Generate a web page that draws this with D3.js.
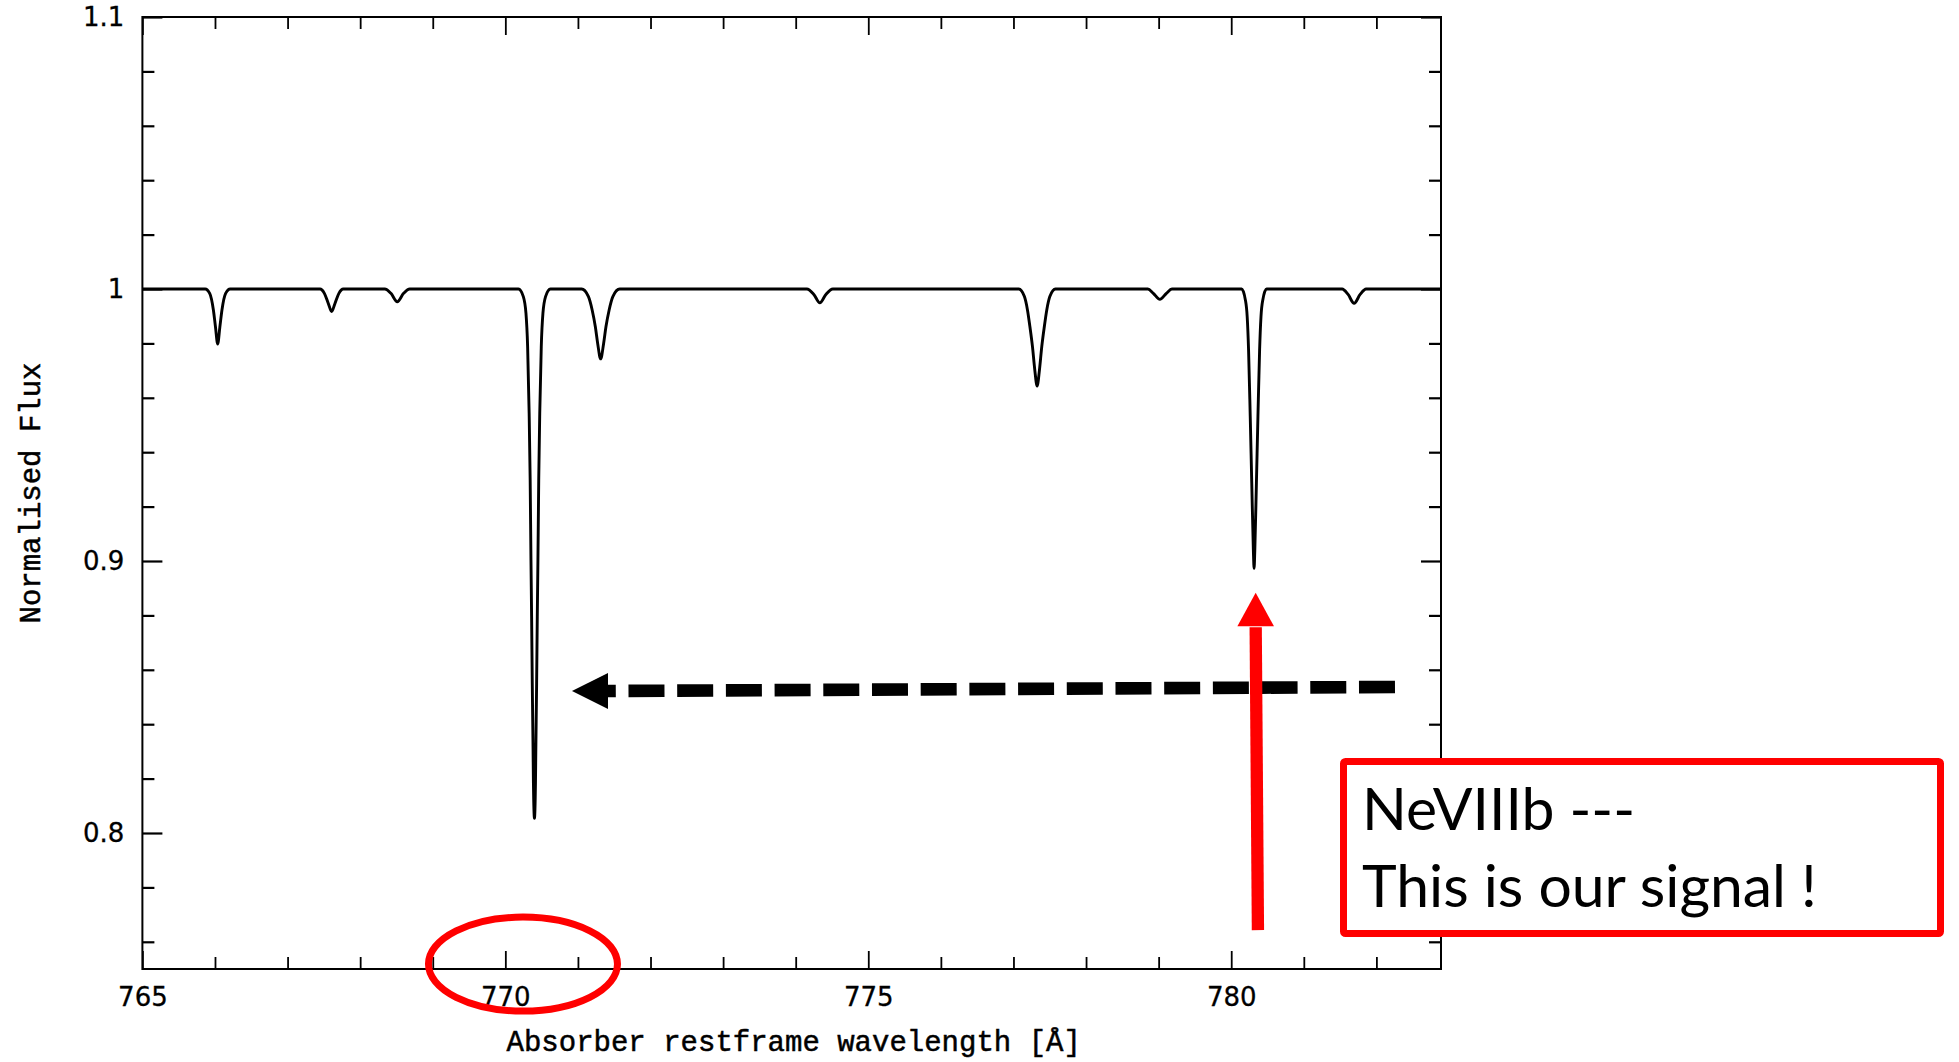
<!DOCTYPE html>
<html><head><meta charset="utf-8">
<script src="https://cdn.jsdelivr.net/npm/d3@7"></script>
<style>html,body{margin:0;padding:0;background:#fff;} svg{display:block;}</style>
</head><body>
<svg id="c" width="1959" height="1062"></svg>
<script>
// ---------- data ----------
const xDomain = [765, 782.89];
const yDomain = [0.75, 1.1];
const xMajorTicks = [765, 770, 775, 780];
const xTickLabels = ["765", "770", "775", "780"];
const xMinorTicks = [766, 767, 768, 769, 771, 772, 773, 774, 776, 777, 778, 779, 781, 782];
const yMajorTicks = [0.8, 0.9, 1.0, 1.1];
const yTickLabels = ["0.8", "0.9", "1", "1.1"];
const yMinorTicks = [0.76, 0.78, 0.82, 0.84, 0.86, 0.88, 0.92, 0.94, 0.96, 0.98, 1.02, 1.04, 1.06, 1.08];

const continuumLam = [765.0, 782.89];
const continuumFlux = [1.0, 1.0];

const line766Lam  = [765.865, 765.927, 765.978, 766.007, 766.037, 766.067, 766.096, 766.147, 766.209];
const line766Flux = [1, 0.9984, 0.9923, 0.986, 0.9798, 0.986, 0.9923, 0.9984, 1];

const line7676Lam  = [767.447, 767.507, 767.561, 767.607, 767.653, 767.707, 767.767];
const line7676Flux = [1, 0.9984, 0.9947, 0.9917, 0.9947, 0.9984, 1];

const line7685Lam  = [768.339, 768.424, 768.511, 768.598, 768.683];
const line7685Flux = [1, 0.9984, 0.9953, 0.9984, 1];

const line7704Lam  = [770.181, 770.248, 770.284, 770.307, 770.328, 770.342, 770.353, 770.362, 770.371, 770.382, 770.387, 770.401,
                      770.415, 770.420, 770.431, 770.440, 770.449, 770.460, 770.474, 770.495, 770.518, 770.554, 770.621];
const line7704Flux = [1, 0.9972, 0.9911, 0.9788, 0.9543, 0.9298, 0.9004, 0.8795, 0.855, 0.8305, 0.8183, 0.8054,
                      0.8183, 0.8305, 0.855, 0.8795, 0.9004, 0.9298, 0.9543, 0.9788, 0.9911, 0.9972, 1];

const line7713Lam  = [771.051, 771.145, 771.196, 771.240, 771.272, 771.313, 771.354, 771.386, 771.430, 771.481, 771.575];
const line7713Flux = [1, 0.9972, 0.9923, 0.9861, 0.980, 0.9743, 0.980, 0.9861, 0.9923, 0.9972, 1];

const line7743Lam  = [774.154, 774.250, 774.333, 774.416, 774.512];
const line7743Flux = [1, 0.998, 0.9949, 0.998, 1];

const line7773Lam  = [777.074, 777.151, 777.193, 777.227, 777.262, 777.294, 777.326, 777.358, 777.390, 777.425, 777.459, 777.501, 777.578];
const line7773Flux = [1, 0.9972, 0.9923, 0.9861, 0.9788, 0.9702, 0.9643, 0.9702, 0.9788, 0.9861, 0.9923, 0.9972, 1];

const line7790Lam  = [778.851, 778.927, 779.017, 779.107, 779.183];
const line7790Flux = [1, 0.9984, 0.9962, 0.9984, 1];

const line7803Lam  = [780.143, 780.195, 780.220, 780.239, 780.262, 780.283, 780.305, 780.315, 780.325, 780.347, 780.368, 780.391, 780.410, 780.435, 780.487];
const line7803Flux = [1, 0.996, 0.9898, 0.9776, 0.953, 0.9286, 0.904, 0.8973, 0.904, 0.9286, 0.953, 0.9776, 0.9898, 0.996, 1];

const line7817Lam  = [781.528, 781.610, 781.693, 781.776, 781.858];
const line7817Flux = [1, 0.998, 0.9947, 0.998, 1];

// annotation anchors (data units)
const dashArrowFrom = [782.256, 0.8537];
const dashArrowTo   = [771.414, 0.8522];
const dashArrowTip  = [770.918, 0.8522];
const redArrowFrom  = [780.368, 0.7643];
const redArrowBase  = [780.337, 0.8760];
const redArrowTip   = [780.337, 0.8883];
const ellipseCenter = [770.243, 0.7518];
const boxLines = ["NeVIIIb ---", "This is our signal !"];

// ---------- drawing ----------
const svg = d3.select("#c");
svg.append("rect").attr("width", 1959).attr("height", 1062).attr("fill", "#fff");

const L = 142.4, R = 1441, T = 17, B = 969;
const x = d3.scaleLinear().domain(xDomain).range([L, R]);
const y = d3.scaleLinear().domain(yDomain).range([B, T]);

const pairs = (lam, fl) => lam.map((v, i) => [v, fl[i]]);
const pts = [].concat(
  pairs(continuumLam, continuumFlux),
  pairs(line766Lam, line766Flux), pairs(line7676Lam, line7676Flux), pairs(line7685Lam, line7685Flux),
  pairs(line7704Lam, line7704Flux), pairs(line7713Lam, line7713Flux), pairs(line7743Lam, line7743Flux),
  pairs(line7773Lam, line7773Flux), pairs(line7790Lam, line7790Flux), pairs(line7803Lam, line7803Flux),
  pairs(line7817Lam, line7817Flux)
).sort((a, b) => a[0] - b[0]);

const lineGen = d3.line().x(d => x(d[0])).y(d => y(d[1])).curve(d3.curveMonotoneX);
svg.append("path").datum(pts).attr("d", lineGen)
  .attr("fill", "none").attr("stroke", "#000").attr("stroke-width", 2.9)
  .attr("stroke-linejoin", "round");

function styleAxis(g, sw) {
  g.select(".domain").remove();
  g.selectAll(".tick line").attr("stroke", "#000").attr("stroke-width", sw);
  g.selectAll("text").attr("font-family", "'DejaVu Sans', sans-serif").attr("font-size", 26).attr("fill", "#000")
    .attr("stroke", "#000").attr("stroke-width", 0.3);
  g.attr("font-family", null).attr("font-size", null);
}

// bottom
svg.append("g").attr("transform", `translate(0,${B})`)
  .call(d3.axisBottom(x).tickValues(xMinorTicks).tickSize(-12).tickFormat("")).call(g => styleAxis(g, 1.8));
svg.append("g").attr("transform", `translate(0,${B})`)
  .call(d3.axisBottom(x).tickValues(xMajorTicks).tickSize(-18).tickPadding(19).tickFormat((d, i) => xTickLabels[i]))
  .call(g => styleAxis(g, 1.8));
// top
svg.append("g").attr("transform", `translate(0,${T})`)
  .call(d3.axisTop(x).tickValues(xMinorTicks).tickSize(-12).tickFormat("")).call(g => styleAxis(g, 1.8));
svg.append("g").attr("transform", `translate(0,${T})`)
  .call(d3.axisTop(x).tickValues(xMajorTicks).tickSize(-18).tickFormat("")).call(g => styleAxis(g, 1.8));
// left
svg.append("g").attr("transform", `translate(${L},0)`)
  .call(d3.axisLeft(y).tickValues(yMinorTicks).tickSize(-12).tickFormat("")).call(g => styleAxis(g, 2.2));
svg.append("g").attr("transform", `translate(${L},0)`)
  .call(d3.axisLeft(y).tickValues(yMajorTicks).tickSize(-20).tickPadding(18).tickFormat((d, i) => yTickLabels[i]))
  .call(g => styleAxis(g, 2.2));
// right
svg.append("g").attr("transform", `translate(${R},0)`)
  .call(d3.axisRight(y).tickValues(yMinorTicks).tickSize(-12).tickFormat("")).call(g => styleAxis(g, 2.2));
svg.append("g").attr("transform", `translate(${R},0)`)
  .call(d3.axisRight(y).tickValues(yMajorTicks).tickSize(-20).tickFormat("")).call(g => styleAxis(g, 2.2));

// frame
svg.append("rect").attr("x", L).attr("y", T).attr("width", R - L).attr("height", B - T)
  .attr("fill", "none").attr("stroke", "#000").attr("stroke-width", 2);

// axis titles
svg.append("text").attr("x", (L + R) / 2 + 2).attr("y", 1051)
  .attr("text-anchor", "middle").attr("font-family", "'Liberation Mono', monospace").attr("font-size", 29)
  .attr("stroke", "#000").attr("stroke-width", 0.5)
  .text("Absorber restframe wavelength [Å]");
svg.append("text").attr("transform", `translate(40,${(T + B) / 2}) rotate(-90)`)
  .attr("text-anchor", "middle").attr("font-family", "'Liberation Mono', monospace").attr("font-size", 29)
  .attr("stroke", "#000").attr("stroke-width", 0.5)
  .text("Normalised Flux");

// dashed black arrow
svg.append("line")
  .attr("x1", x(dashArrowFrom[0])).attr("y1", y(dashArrowFrom[1]))
  .attr("x2", x(dashArrowTo[0])).attr("y2", y(dashArrowTo[1]))
  .attr("stroke", "#000").attr("stroke-width", 12.6).attr("stroke-dasharray", "36 12.7");
{
  const tx = x(dashArrowTip[0]), ty = y(dashArrowTip[1]), bx = x(dashArrowTo[0]);
  svg.append("path").attr("d", `M${tx},${ty} L${bx},${ty - 18} L${bx},${ty + 18} Z`).attr("fill", "#000");
}

// red vertical arrow
svg.append("line")
  .attr("x1", x(redArrowFrom[0])).attr("y1", y(redArrowFrom[1]))
  .attr("x2", x(redArrowBase[0])).attr("y2", y(redArrowBase[1]) + 1)
  .attr("stroke", "#ff0000").attr("stroke-width", 12.3);
{
  const tx = x(redArrowTip[0]), ty = y(redArrowTip[1]), by = y(redArrowBase[1]);
  svg.append("path").attr("d", `M${tx},${ty} L${tx - 18.3},${by} L${tx + 18.3},${by} Z`).attr("fill", "#ff0000");
}

// red ellipse
svg.append("ellipse").attr("cx", x(ellipseCenter[0])).attr("cy", y(ellipseCenter[1]))
  .attr("rx", 94.5).attr("ry", 47).attr("fill", "none").attr("stroke", "#ff0000").attr("stroke-width", 7);

// red box
svg.append("rect").attr("x", 1343.5).attr("y", 761.5).attr("width", 597).attr("height", 172).attr("rx", 2)
  .attr("fill", "#fff").attr("stroke", "#ff0000").attr("stroke-width", 7);
const t1 = svg.append("text").attr("x", 1362).attr("y", 830).attr("font-family", "Lato, 'Open Sans', sans-serif")
  .attr("font-size", 52).attr("fill", "#000").text(boxLines[0]);
const t2 = svg.append("text").attr("x", 1362).attr("y", 907).attr("font-family", "Lato, 'Open Sans', sans-serif")
  .attr("font-size", 52).attr("fill", "#000").text(boxLines[1]);
const w = t2.node().getComputedTextLength();
if (w > 0) { const fs = 52 * 455 / w; t1.attr("font-size", fs); t2.attr("font-size", fs); }
</script>
</body></html>
